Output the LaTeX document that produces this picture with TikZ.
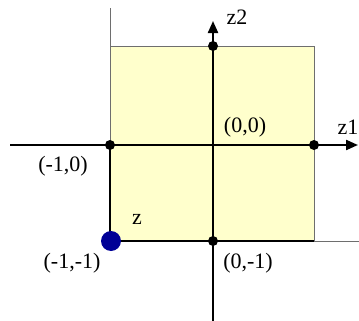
\documentclass[tikz,border=0pt]{standalone}
\usepackage{fontspec}
\setmainfont{Liberation Serif}
\usetikzlibrary{arrows.meta}
\definecolor{sqfill}{RGB}{255,255,204}
\definecolor{thin}{RGB}{110,110,110}
\definecolor{zblue}{RGB}{0,0,150}
\begin{document}
\begin{tikzpicture}[x=0.5pt,y=-0.5pt,
  axis/.style={line width=1.1pt,-{Triangle[length=6pt,width=5pt]}},
  thinline/.style={draw=thin,line width=0.45pt},
  thickline/.style={draw=black,line width=0.8pt},
  pt/.style={circle,fill=black,inner sep=0pt,minimum size=5pt},
  bpt/.style={circle,fill=zblue,inner sep=0pt,minimum size=10pt},
  lab/.style={font=\fontsize{11}{12}\selectfont,inner sep=0pt}]
\useasboundingbox (0,0) rectangle (359,321);
% square
\fill[sqfill] (110,46) rectangle (314,241);
\coordinate (tl) at (110,46);
\coordinate (tr) at (314,46);
\coordinate (br) at (314,241);
\coordinate (bl) at (110,241);
\coordinate (topv) at (110,8);
\coordinate (rightb) at (359,241);
\coordinate (ml) at (110,145);
\draw[thinline] (topv) -- (tl) -- (tr) -- (br);
\draw[thinline] (br) -- (rightb);
\draw[thinline] (tl) -- (ml);
\draw[thickline] (ml) -- (bl) -- (br);
% axes
\coordinate (xs) at (10,145);
\coordinate (xe) at (358,145);
\coordinate (ys) at (213,321);
\coordinate (ye) at (213,21);
\draw[axis] (xs) -- (xe);
\draw[axis] (ys) -- (ye);
% points
\node[pt] (pm10) at (110,145) {};
\node[pt] (p01) at (213,46) {};
\node[pt] (p10) at (314,145) {};
\node[pt] (p0m1) at (213,241) {};
\node[bpt] (z) at (111,241) {};
% labels
\node[lab] (lz2) at (237,17) {z2};
\node[lab] (lz1) at (348,127) {z1};
\node[lab] (l00) at (245,127) {(0,0)};
\node[lab] (lm10) at (63,166) {(-1,0)};
\node[lab] (lz) at (137,219) {z};
\node[lab] (lm1m1) at (72,263) {(-1,-1)};
\node[lab] (l0m1) at (248,263) {(0,-1)};
\end{tikzpicture}
\end{document}
